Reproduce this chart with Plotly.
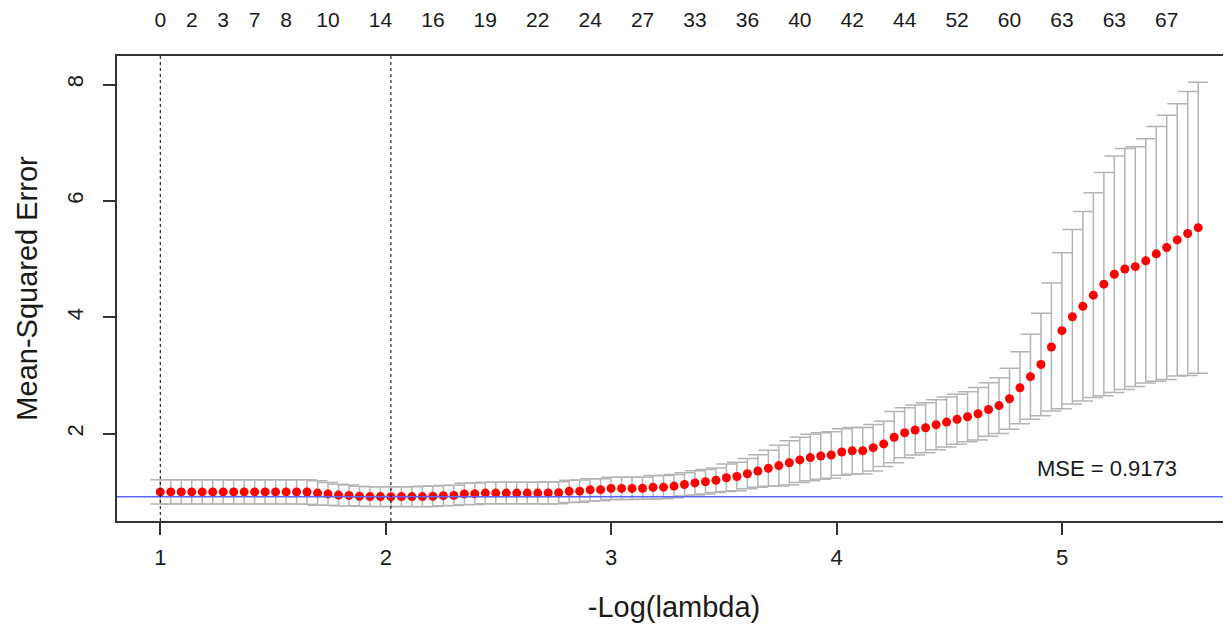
import plotly.graph_objects as go

# -log(lambda) grid (one value per fitted lambda)
neg_log_lambda = [
    1.0000, 1.0465, 1.0930, 1.1395, 1.1860, 1.2325, 1.2790, 1.3255, 1.3720, 1.4185,
    1.4650, 1.5115, 1.5580, 1.6045, 1.6510, 1.6975, 1.7440, 1.7905, 1.8370, 1.8835,
    1.9300, 1.9765, 2.0230, 2.0695, 2.1160, 2.1625, 2.2090, 2.2555, 2.3020, 2.3485,
    2.3950, 2.4415, 2.4880, 2.5345, 2.5810, 2.6275, 2.6740, 2.7205, 2.7670, 2.8135,
    2.8600, 2.9065, 2.9530, 2.9995, 3.0460, 3.0925, 3.1390, 3.1855, 3.2320, 3.2785,
    3.3250, 3.3715, 3.4180, 3.4645, 3.5110, 3.5575, 3.6040, 3.6505, 3.6970, 3.7435,
    3.7900, 3.8365, 3.8830, 3.9295, 3.9760, 4.0225, 4.0690, 4.1155, 4.1620, 4.2085,
    4.2550, 4.3015, 4.3480, 4.3945, 4.4410, 4.4875, 4.5340, 4.5805, 4.6270, 4.6735,
    4.7200, 4.7665, 4.8130, 4.8595, 4.9060, 4.9525, 4.9990, 5.0455, 5.0920, 5.1385,
    5.1850, 5.2315, 5.2780, 5.3245, 5.3710, 5.4175, 5.4640, 5.5105, 5.5570, 5.6035,
]

# cross-validated mean squared error
cv_mse = [
    1.000, 1.000, 1.000, 1.000, 1.000, 1.000, 1.000, 1.000, 1.000, 1.000,
    1.000, 1.000, 1.000, 1.000, 0.998, 0.980, 0.965, 0.945, 0.940, 0.925,
    0.920, 0.920, 0.9173, 0.920, 0.920, 0.920, 0.925, 0.935, 0.940, 0.965,
    0.970, 0.980, 0.980, 0.980, 0.980, 0.980, 0.980, 0.982, 0.985, 1.010,
    1.013, 1.035, 1.038, 1.060, 1.060, 1.060, 1.062, 1.080, 1.082, 1.100,
    1.128, 1.155, 1.175, 1.200, 1.244, 1.265, 1.312, 1.360, 1.407, 1.452,
    1.500, 1.550, 1.590, 1.616, 1.635, 1.685, 1.705, 1.707, 1.760, 1.825,
    1.940, 2.017, 2.063, 2.103, 2.154, 2.200, 2.247, 2.292, 2.343, 2.415,
    2.483, 2.600, 2.790, 2.980, 3.190, 3.490, 3.770, 4.010, 4.190, 4.380,
    4.570, 4.740, 4.830, 4.870, 4.970, 5.090, 5.200, 5.330, 5.440, 5.540,
]

# standard error of the CV estimate (half length of each bar)
cv_se = [
    0.210, 0.210, 0.210, 0.210, 0.210, 0.210, 0.210, 0.210, 0.210, 0.210,
    0.210, 0.210, 0.210, 0.210, 0.210, 0.210, 0.195, 0.185, 0.180, 0.170,
    0.170, 0.170, 0.170, 0.170, 0.170, 0.175, 0.175, 0.175, 0.175, 0.185,
    0.185, 0.185, 0.185, 0.185, 0.185, 0.185, 0.185, 0.190, 0.190, 0.190,
    0.190, 0.190, 0.190, 0.190, 0.190, 0.190, 0.190, 0.200, 0.200, 0.200,
    0.200, 0.210, 0.210, 0.210, 0.235, 0.245, 0.260, 0.280, 0.310, 0.350,
    0.380, 0.390, 0.400, 0.400, 0.400, 0.400, 0.400, 0.400, 0.400, 0.390,
    0.440, 0.430, 0.430, 0.430, 0.430, 0.430, 0.430, 0.430, 0.450, 0.460,
    0.480, 0.525, 0.620, 0.730, 0.880, 1.100, 1.340, 1.500, 1.630, 1.760,
    1.920, 2.030, 2.070, 2.060, 2.100, 2.190, 2.270, 2.340, 2.440, 2.500,
]

# number of non-zero coefficients shown along the top
nz_at_index = [0, 3, 6, 9, 12, 16, 21, 26, 31, 36, 41, 46, 51, 56, 61, 66, 71, 76, 81, 86, 91, 96]
nz_labels = ["0", "2", "3", "7", "8", "10", "14", "16", "19", "22", "24",
             "27", "33", "36", "40", "42", "44", "52", "60", "63", "63", "67"]

index_1se = 0
index_min = 22
min_mse = 0.9173

x_ticks = [1, 2, 3, 4, 5]
y_ticks = [2, 4, 6, 8]

FONT = "Liberation Sans, Arial, sans-serif"
AX = "#333333"
TXT = "#1a1a1a"

fig = go.Figure()
fig.add_trace(go.Scatter(
    x=neg_log_lambda, y=cv_mse, mode="markers",
    marker=dict(color="#ff0000", size=9, line=dict(width=0)),
    error_y=dict(type="data", array=cv_se, color="#b4b4b4", thickness=1.5, width=10),
    showlegend=False, hoverinfo="x+y",
))
top_x = [neg_log_lambda[i] for i in nz_at_index]
fig.add_trace(go.Scatter(
    x=top_x, y=[cv_mse[i] for i in nz_at_index], xaxis="x2", mode="markers",
    marker=dict(opacity=0), showlegend=False, hoverinfo="skip",
))

fig.add_hline(y=min_mse, line=dict(color="#6060ff", width=1.5))
for i in (index_1se, index_min):
    fig.add_vline(x=neg_log_lambda[i], line=dict(color="black", width=1, dash="dot"))

fig.add_annotation(x=5.2, y=1.4, text="MSE = 0.9173", showarrow=False,
                   font=dict(family=FONT, size=22, color=TXT))

fig.update_layout(
    width=1223, height=620,
    margin=dict(l=109, r=0, t=48, b=107, autoexpand=False),
    paper_bgcolor="white", plot_bgcolor="white",
    font=dict(family=FONT, color=TXT),
    xaxis=dict(
        range=[0.808, 5.749], tickvals=x_ticks, ticks="outside", ticklen=12,
        tickcolor=AX, tickwidth=1.5, showline=True, linecolor=AX, linewidth=1.5,
        mirror=True, showgrid=False, zeroline=False, automargin=False,
        tickfont=dict(size=22, color=TXT), ticklabelstandoff=4,
        title=dict(text="-Log(lambda)", font=dict(size=29, color=TXT), standoff=28),
    ),
    xaxis2=dict(
        overlaying="x", side="top", matches="x", tickvals=top_x, ticktext=nz_labels,
        ticks="", showline=False, showgrid=False, zeroline=False, automargin=False,
        tickfont=dict(size=21, color=TXT), ticklabelstandoff=24,
    ),
    yaxis=dict(
        range=[0.5, 8.49], tickvals=y_ticks, ticks="outside", ticklen=12,
        tickcolor=AX, tickwidth=1.5, showline=True, linecolor=AX, linewidth=1.5,
        showgrid=False, zeroline=False, tickangle=-90, automargin=False,
        tickfont=dict(size=22, color=TXT), ticklabelstandoff=11,
        title=dict(text="Mean-Squared Error", font=dict(size=29, color=TXT), standoff=17),
    ),
)

fig.write_html("out.html")
